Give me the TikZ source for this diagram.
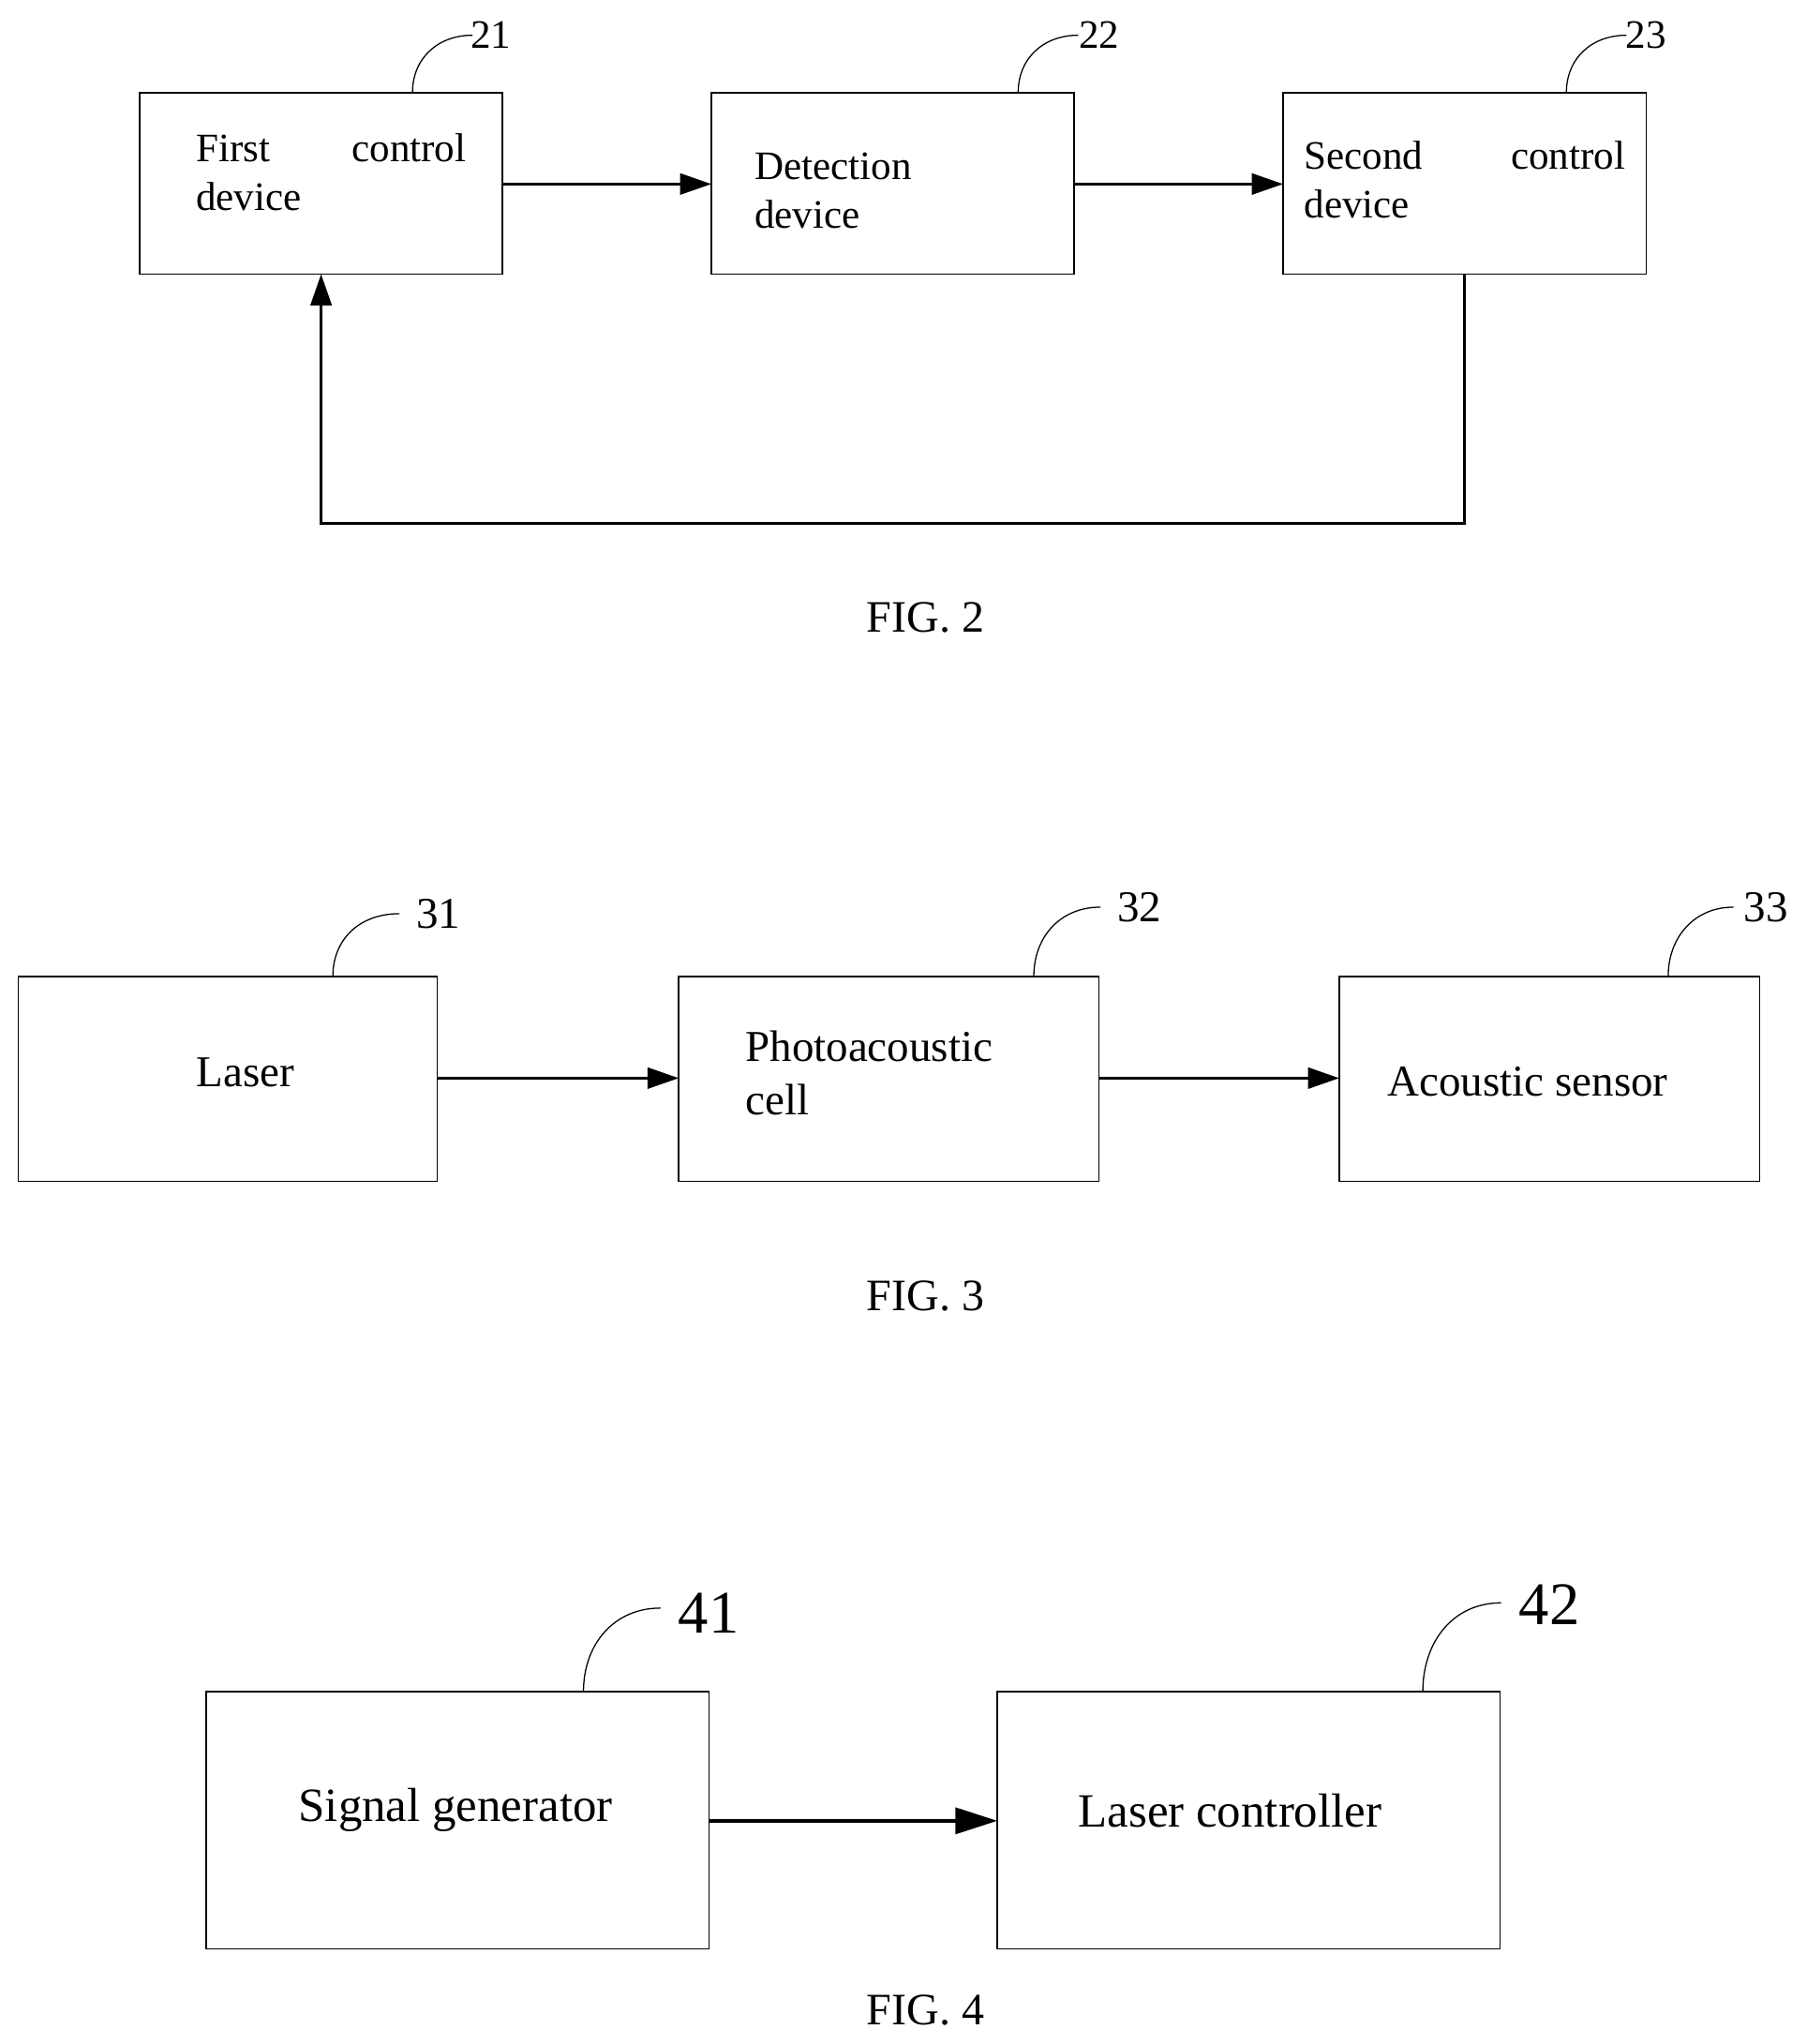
\documentclass[tikz,border=0pt]{standalone}
\usepackage{fontspec}
\setmainfont{Liberation Serif}
\usetikzlibrary{arrows.meta}
\begin{document}
\begin{tikzpicture}[x=0.05cm,y=-0.05cm,
 box/.style={draw,line width=1.5pt},
 arr/.style={line width=3.4pt,-{Triangle[length=1.2cm,width=0.8cm]}},
 arrb/.style={line width=3.6pt,-{Triangle[length=1.6cm,width=1.0cm]}},
 lead/.style={line width=1.3pt},
 tA/.style={font=\fontsize{44}{53}\selectfont,inner sep=0pt},
 tB/.style={font=\fontsize{48}{59}\selectfont,inner sep=0pt},
 tC/.style={font=\fontsize{52}{62}\selectfont,inner sep=0pt},
 fig/.style={font=\fontsize{49}{53}\selectfont,inner sep=0pt}]
\useasboundingbox (0,0) rectangle (1384,1566);
% FIG 2
\draw[box] (107,71) rectangle (385,210);
\draw[box] (545,71) rectangle (823,210);
\draw[box] (983,71) rectangle (1261,210);
\coordinate (b21) at (385,141); \coordinate (b22w) at (545,141);
\coordinate (b22e) at (823,141); \coordinate (b23w) at (983,141);
\coordinate (b23s) at (1122,210); \coordinate (b21s) at (246,210);
\draw[arr] (b21) -- (b22w);
\draw[arr] (b22e) -- (b23w);
\draw[arr] (b23s) |- (246,401) -- (b21s);
\node[tA,anchor=north west,text width=10.35cm,align=left] (t21) at (150,102) {First\hfill control\\device};
\node[tA,anchor=north west,align=left] (t22) at (578,117) {Detection\\device};
\node[tA,anchor=north west,text width=12.3cm,align=left] (t23) at (999,108) {Second\hfill control\\device};
\draw[lead] (316,71) .. controls (316,45) and (335,27) .. (362,27);
\node[tA] (l21) at (376,27) {21};
\draw[lead] (780,71) .. controls (780,45) and (799,27) .. (826,27);
\node[tA] (l22) at (842,27) {22};
\draw[lead] (1200,71) .. controls (1200,45) and (1219,27) .. (1246,27);
\node[tA] (l23) at (1261,27) {23};
\node[fig] (f2) at (709,473) {FIG. 2};
% FIG 3
\draw[box] (14,748) rectangle (335,905);
\draw[box] (520,748) rectangle (842,905);
\draw[box] (1026,748) rectangle (1348,905);
\coordinate (c31) at (335,826); \coordinate (c32w) at (520,826);
\coordinate (c32e) at (842,826); \coordinate (c33w) at (1026,826);
\draw[arr] (c31) -- (c32w);
\draw[arr] (c32e) -- (c33w);
\node[tB] (t31) at (188,822) {Laser};
\node[tB,anchor=west,align=left] (t32) at (571,822) {Photoacoustic\\cell};
\node[tB,anchor=west] (t33) at (1063,829) {Acoustic sensor};
\draw[lead] (255,748) .. controls (255,720) and (275,700) .. (306,700);
\node[tB] (l31) at (336,700) {31};
\draw[lead] (792,748) .. controls (792,718) and (812,695) .. (843,695);
\node[tB] (l32) at (873,695) {32};
\draw[lead] (1278,748) .. controls (1278,718) and (1298,695) .. (1328,695);
\node[tB] (l33) at (1353,695) {33};
\node[fig] (f3) at (709,993) {FIG. 3};
% FIG 4
\draw[box] (158,1296) rectangle (543,1493);
\draw[box] (764,1296) rectangle (1149,1493);
\coordinate (c41) at (543,1395); \coordinate (c42) at (764,1395);
\draw[arrb] (c41) -- (c42);
\node[tC] (t41) at (349,1387) {Signal generator};
\node[tC,anchor=west] (t42) at (826,1387) {Laser controller};
\draw[lead] (447,1296) .. controls (447,1260) and (470,1232) .. (506,1232);
\node[font=\fontsize{66}{70}\selectfont,inner sep=0pt] (l41) at (543,1236) {41};
\draw[lead] (1090,1296) .. controls (1090,1258) and (1113,1228) .. (1150,1228);
\node[font=\fontsize{66}{70}\selectfont,inner sep=0pt] (l42) at (1187,1229) {42};
\node[fig] (f4) at (709,1540) {FIG. 4};
\end{tikzpicture}
\end{document}
